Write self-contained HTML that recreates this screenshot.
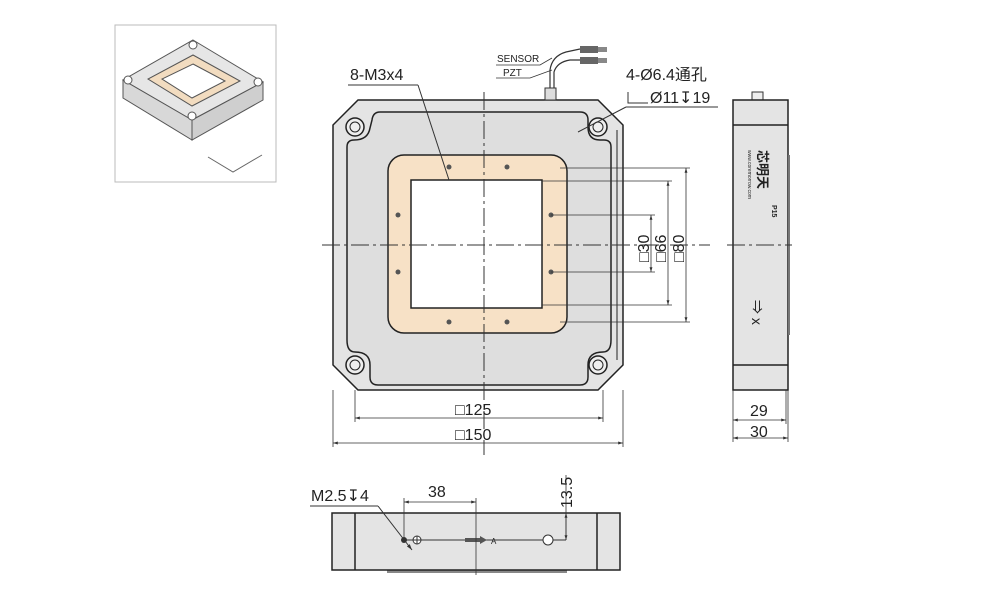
<!DOCTYPE html>
<html><head><meta charset="utf-8"><style>
html,body{margin:0;padding:0;background:#fff;}
svg{display:block}
text{font-family:"Liberation Sans","Noto Sans CJK SC",sans-serif;fill:#222}
</style></head><body>
<svg width="1000" height="600" viewBox="0 0 1000 600" xmlns="http://www.w3.org/2000/svg">
<defs>
<marker id="a" viewBox="0 0 10 10" refX="10" refY="5" markerWidth="6" markerHeight="6" orient="auto-start-reverse"><path d="M0,2 L10,5 L0,8z" fill="#333"/></marker>
</defs>
<!-- thumbnail -->
<rect x="115" y="25" width="161" height="157" fill="#fff" stroke="#bbb"/>
<polygon points="193,40 263,82 192,120 123,80" fill="#e6e6e6" stroke="#555"/>
<polygon points="123,80 192,120 192,140 123,98" fill="#d8d8d8" stroke="#555"/>
<polygon points="192,120 263,82 263,100 192,140" fill="#cfcfcf" stroke="#555"/>
<polygon points="193,55 240,81 192,106 148,79" fill="#f2dcc0" stroke="#555"/>
<polygon points="193,64 225,81 192,98 162,79" fill="#fff" stroke="#555"/>
<g fill="#fff" stroke="#555"><circle cx="193" cy="45" r="4"/><circle cx="258" cy="82" r="4"/><circle cx="128" cy="80" r="4"/><circle cx="192" cy="116" r="4"/></g>
<path d="M208,157 L233,172 L262,155" fill="none" stroke="#666"/>
<!-- main body -->
<polygon points="358,100 598,100 623,125 623,365 598,390 358,390 333,365 333,125" fill="#e4e4e4" stroke="#222" stroke-width="1.5"/>
<path d="M380,112 L580,112 Q588,112 588,120 L588,127 Q588,140 600,140 L604,140 Q611,140 611,147 L611,340 Q611,352 603,352 Q588,352 588,365 L588,377 Q588,385 580,385 L378,385 Q370,385 370,377 L370,365 Q370,352 355,352 Q347,352 347,340 L347,147 Q347,140 354,140 Q368,140 370,128 L372,120 Q373,112 380,112Z" fill="#dedede" stroke="#222" stroke-width="1.5"/>
<line x1="617" y1="130" x2="617" y2="360" stroke="#222"/>
<rect x="388" y="155" width="179" height="178" rx="16" fill="#f7e1c6" stroke="#222" stroke-width="1.5"/>
<rect x="411" y="180" width="131" height="128" fill="#fff" stroke="#222" stroke-width="1.5"/>
<g fill="#eee" stroke="#222" stroke-width="1.5">
<circle cx="355" cy="127" r="9"/><circle cx="598" cy="127" r="9"/><circle cx="355" cy="365" r="9"/><circle cx="598" cy="365" r="9"/>
</g>
<g fill="none" stroke="#222"><circle cx="355" cy="127" r="5"/><circle cx="598" cy="127" r="5"/><circle cx="355" cy="365" r="5"/><circle cx="598" cy="365" r="5"/></g>
<g fill="#555"><circle cx="449" cy="167" r="2.5"/><circle cx="507" cy="167" r="2.5"/><circle cx="398" cy="215" r="2.5"/><circle cx="551" cy="215" r="2.5"/><circle cx="398" cy="272" r="2.5"/><circle cx="551" cy="272" r="2.5"/><circle cx="449" cy="322" r="2.5"/><circle cx="507" cy="322" r="2.5"/></g>
<!-- center lines -->
<line x1="484" y1="92" x2="484" y2="455" stroke="#333" stroke-dasharray="18,4,3,4"/>
<line x1="322" y1="245" x2="710" y2="245" stroke="#333" stroke-dasharray="18,4,3,4"/>
<!-- cable -->
<rect x="545" y="88" width="11" height="12" fill="#ddd" stroke="#333"/>
<path d="M550,88 L550,70 Q552,56 566,52 L580,49 M554,88 L554,72 Q557,62 570,60 L580,60" fill="none" stroke="#333" stroke-width="1.2"/>
<rect x="580" y="46" width="18" height="7" fill="#666"/><rect x="598" y="47" width="9" height="5" fill="#888"/>
<rect x="580" y="57" width="18" height="7" fill="#666"/><rect x="598" y="58" width="9" height="5" fill="#888"/>
<text x="497" y="62" font-size="10">SENSOR</text><text x="503" y="76" font-size="10">PZT</text>
<path d="M496,65 L540,65 L552,58 M496,78 L530,78 L552,70" fill="none" stroke="#333" stroke-width="0.8"/>
<!-- labels -->
<text x="350" y="80" font-size="16">8-M3x4</text>
<line x1="348" y1="85" x2="418" y2="85" stroke="#333"/>
<line x1="418" y1="85" x2="449" y2="180" stroke="#333"/>
<text x="626" y="80" font-size="16">4-Ø6.4通孔</text>
<text x="650" y="103" font-size="16">Ø11↧19</text>
<path d="M628,92 L628,103 L648,103" fill="none" stroke="#333"/>
<line x1="626" y1="107" x2="718" y2="107" stroke="#333"/>
<line x1="626" y1="107" x2="578" y2="132" stroke="#333"/>
<!-- right dims -->
<g stroke="#333" stroke-width="0.8" fill="none">
<line x1="551" y1="215" x2="655" y2="215"/><line x1="551" y1="272" x2="655" y2="272"/>
<line x1="542" y1="181" x2="672" y2="181"/><line x1="542" y1="305" x2="672" y2="305"/>
<line x1="560" y1="168" x2="690" y2="168"/><line x1="560" y1="322" x2="690" y2="322"/>
<line x1="651" y1="215" x2="651" y2="272" marker-start="url(#a)" marker-end="url(#a)"/>
<line x1="668" y1="181" x2="668" y2="305" marker-start="url(#a)" marker-end="url(#a)"/>
<line x1="686" y1="168" x2="686" y2="322" marker-start="url(#a)" marker-end="url(#a)"/>
</g>
<g font-size="16">
<text transform="translate(649,262) rotate(-90)">□30</text>
<text transform="translate(666,262) rotate(-90)">□66</text>
<text transform="translate(684,262) rotate(-90)">□80</text>
</g>
<!-- bottom dims -->
<g stroke="#333" stroke-width="0.8">
<line x1="355" y1="390" x2="355" y2="422"/><line x1="603" y1="390" x2="603" y2="422"/>
<line x1="333" y1="390" x2="333" y2="447"/><line x1="623" y1="390" x2="623" y2="447"/>
<line x1="355" y1="418" x2="603" y2="418" marker-start="url(#a)" marker-end="url(#a)"/>
<line x1="333" y1="443" x2="623" y2="443" marker-start="url(#a)" marker-end="url(#a)"/>
</g>
<text x="455" y="415" font-size="16">□125</text>
<text x="455" y="440" font-size="16">□150</text>
<!-- side view -->
<rect x="752" y="92" width="11" height="9" fill="#eee" stroke="#333"/>
<rect x="733" y="100" width="55" height="290" fill="#e4e4e4" stroke="#222" stroke-width="1.5"/>
<line x1="733" y1="125" x2="788" y2="125" stroke="#222" stroke-width="1.5"/>
<line x1="733" y1="365" x2="788" y2="365" stroke="#222" stroke-width="1.5"/>
<rect x="788" y="155" width="2" height="180" fill="#777"/>
<line x1="727" y1="245" x2="792" y2="245" stroke="#333" stroke-dasharray="18,4,3,4"/>
<text transform="translate(758,150) rotate(90)" font-size="13" font-weight="bold">芯明天</text>
<text transform="translate(772,205) rotate(90)" font-size="7" font-weight="bold">P15</text>
<text transform="translate(748,150) rotate(90)" font-size="5">www.coremorrow.com</text>
<text transform="translate(752,300) rotate(90)" font-size="14">⇒ x</text>
<g stroke="#333" stroke-width="0.8">
<line x1="733" y1="390" x2="733" y2="442"/><line x1="786" y1="390" x2="786" y2="424"/><line x1="788" y1="390" x2="788" y2="442"/>
<line x1="733" y1="420" x2="786" y2="420" marker-start="url(#a)" marker-end="url(#a)"/>
<line x1="733" y1="438" x2="788" y2="438" marker-start="url(#a)" marker-end="url(#a)"/>
</g>
<text x="750" y="416" font-size="16">29</text>
<text x="750" y="437" font-size="16">30</text>
<!-- bottom view -->
<rect x="387" y="570" width="180" height="3" fill="#888"/>
<rect x="332" y="513" width="288" height="57" fill="#e4e4e4" stroke="#222" stroke-width="1.5"/>
<line x1="355" y1="513" x2="355" y2="570" stroke="#222" stroke-width="1.5"/>
<line x1="597" y1="513" x2="597" y2="570" stroke="#222" stroke-width="1.5"/>
<line x1="404" y1="540" x2="566" y2="540" stroke="#333"/>
<circle cx="404" cy="540" r="3" fill="#333"/>
<circle cx="417" cy="540" r="4" fill="#fff" stroke="#333"/><path d="M413,540h8M417,536v8" stroke="#333"/>
<path d="M465,538 L480,538 L480,536 L487,540 L480,544 L480,542 L465,542z" fill="#555"/>
<text x="491" y="544" font-size="8">A</text>
<circle cx="548" cy="540" r="5" fill="#fff" stroke="#333"/>
<line x1="476" y1="498" x2="476" y2="575" stroke="#333" stroke-width="0.8"/>
<line x1="404" y1="498" x2="404" y2="540" stroke="#333" stroke-width="0.8"/>
<line x1="404" y1="502" x2="476" y2="502" stroke="#333" stroke-width="0.8" marker-start="url(#a)" marker-end="url(#a)"/>
<text x="428" y="497" font-size="16">38</text>
<line x1="566" y1="475" x2="566" y2="540" stroke="#333" stroke-width="0.8"/>
<line x1="566" y1="513" x2="566" y2="540" stroke="#333" stroke-width="0.8" marker-start="url(#a)" marker-end="url(#a)"/>
<text transform="translate(572,508) rotate(-90)" font-size="16">13.5</text>
<text x="311" y="501" font-size="16">M2.5↧4</text>
<line x1="310" y1="506" x2="378" y2="506" stroke="#333"/>
<line x1="378" y1="506" x2="412" y2="550" stroke="#333" marker-end="url(#a)"/>
</svg>
</body></html>
